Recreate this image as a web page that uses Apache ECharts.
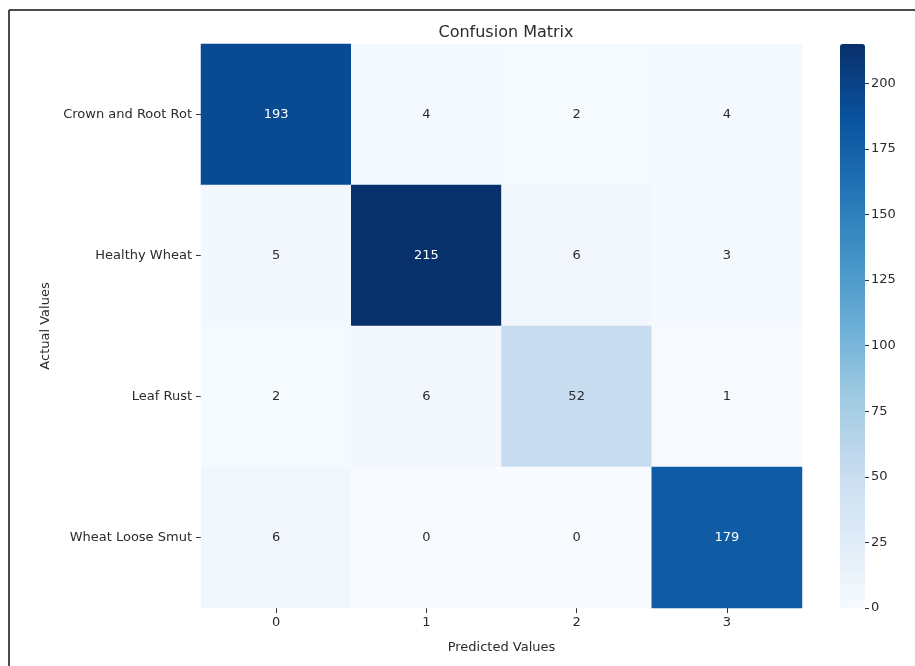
<!DOCTYPE html>
<html>
<head>
<meta charset="utf-8">
<script src="https://cdn.jsdelivr.net/npm/echarts@6/dist/echarts.min.js"></script>
<style>
  html, body { margin: 0; padding: 0; background: #ffffff; }
  #chart { width: 915px; height: 666px; }
</style>
</head>
<body>
<div id="chart"></div>
<script>
// Class names for rows (actual) and predicted column indices
const actualClasses = ['Crown and Root Rot', 'Healthy Wheat', 'Leaf Rust', 'Wheat Loose Smut'];
const predictedClasses = ['0', '1', '2', '3'];

// Counts, one array per actual class
const rowCrownRootRot = [193, 4, 2, 4];
const rowHealthyWheat = [5, 215, 6, 3];
const rowLeafRust = [2, 6, 52, 1];
const rowWheatLooseSmut = [6, 0, 0, 179];
const matrixRows = [rowCrownRootRot, rowHealthyWheat, rowLeafRust, rowWheatLooseSmut];

// Colour bar scale
const scaleMin = 0;
const scaleMax = 215;
const colorbarTicks = [0, 25, 50, 75, 100, 125, 150, 175, 200];

// "Blues" colour ramp, light to dark
const blues = ['#f7fbff', '#deebf7', '#c6dbef', '#9ecae1', '#6baed6', '#4292c6', '#2171b5', '#08519c', '#08306b'];

function hexToRgb(h) {
  return [parseInt(h.slice(1, 3), 16), parseInt(h.slice(3, 5), 16), parseInt(h.slice(5, 7), 16)];
}
function colorAt(v) {
  const t = Math.max(0, Math.min(1, (v - scaleMin) / (scaleMax - scaleMin))) * (blues.length - 1);
  const i = Math.min(Math.floor(t), blues.length - 2);
  const f = t - i;
  const a = hexToRgb(blues[i]), b = hexToRgb(blues[i + 1]);
  return a.map((c, k) => Math.round(c + (b[k] - c) * f));
}
function textColorFor(v) {
  const rgb = colorAt(v).map(c => {
    c /= 255;
    return c <= 0.03928 ? c / 12.92 : Math.pow((c + 0.055) / 1.055, 2.4);
  });
  const lum = 0.2126 * rgb[0] + 0.7152 * rgb[1] + 0.0722 * rgb[2];
  return lum > 0.408 ? '#2b2b2b' : '#ffffff';
}

const cells = [];
matrixRows.forEach((row, r) => {
  row.forEach((v, c) => {
    cells.push({ value: [c, r, v], label: { color: textColorFor(v) } });
  });
});

const font = 'DejaVu Sans, sans-serif';
const textColor = '#2b2b2b';
const fs = 13;

const chart = echarts.init(document.getElementById('chart'));
chart.setOption({
  backgroundColor: '#ffffff',
  animation: false,
  title: {
    text: 'Confusion Matrix',
    left: 501,
    textAlign: 'center',
    top: 20,
    textStyle: { fontFamily: font, fontSize: 16, fontWeight: 'normal', color: textColor }
  },
  grid: [
    { left: 201, top: 44, width: 601, height: 564 },
    { left: 840, top: 44, width: 25, height: 564 }
  ],
  xAxis: [
    {
      gridIndex: 0,
      type: 'category',
      data: predictedClasses,
      name: 'Predicted Values',
      nameLocation: 'middle',
      nameGap: 33,
      nameTextStyle: { fontFamily: font, fontSize: fs, color: textColor },
      axisLine: { show: false },
      axisTick: { show: true, alignWithLabel: true, length: 5, lineStyle: { color: '#333' } },
      axisLabel: { fontFamily: font, fontSize: fs, color: textColor, margin: 8 },
      splitLine: { show: false },
      splitArea: { show: false }
    },
    { gridIndex: 1, type: 'category', data: [''], show: false }
  ],
  yAxis: [
    {
      gridIndex: 0,
      type: 'category',
      data: actualClasses,
      inverse: true,
      name: 'Actual Values',
      nameLocation: 'middle',
      nameGap: 148,
      nameRotate: 90,
      nameTextStyle: { fontFamily: font, fontSize: fs, color: textColor },
      axisLine: { show: false },
      axisTick: { show: true, alignWithLabel: true, length: 5, lineStyle: { color: '#333' } },
      axisLabel: { fontFamily: font, fontSize: fs, color: textColor, margin: 9 },
      splitLine: { show: false },
      splitArea: { show: false }
    },
    {
      gridIndex: 1,
      type: 'value',
      position: 'right',
      min: scaleMin,
      max: scaleMax,
      interval: 25,
      axisLine: { show: true, onZero: false, lineStyle: { color: 'rgba(0,0,0,0)' } },
      axisTick: { show: true, inside: false, length: 4, customValues: colorbarTicks, lineStyle: { color: '#333', width: 1 } },
      axisLabel: {
        fontFamily: font, fontSize: fs, color: textColor, margin: 6,
        customValues: colorbarTicks
      },
      splitLine: { show: false }
    }
  ],
  visualMap: {
    type: 'continuous',
    min: scaleMin,
    max: scaleMax,
    seriesIndex: 0,
    dimension: 2,
    inRange: { color: blues },
    calculable: false,
    show: true,
    left: 835,
    top: 39,
    itemWidth: 25,
    itemHeight: 564,
    showLabel: false,
    padding: 5,
    hoverLink: false,
    z: 1
  },
  series: [
    {
      type: 'heatmap',
      xAxisIndex: 0,
      yAxisIndex: 0,
      data: cells,
      label: { show: true, fontFamily: font, fontSize: fs },
      itemStyle: { borderWidth: 0 },
      emphasis: { disabled: true }
    }
  ],
  graphic: [
    { type: 'line', shape: { x1: 9, y1: 10, x2: 915, y2: 10 }, style: { stroke: '#111', lineWidth: 1.5 }, silent: true },
    { type: 'line', shape: { x1: 9, y1: 10, x2: 9, y2: 666 }, style: { stroke: '#111', lineWidth: 1.5 }, silent: true }
  ]
});
</script>
</body>
</html>
